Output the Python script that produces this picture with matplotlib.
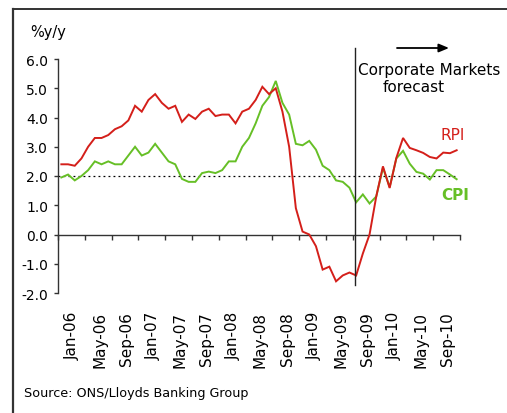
import matplotlib
matplotlib.use("Agg")
import matplotlib.pyplot as plt
from matplotlib.lines import Line2D

# ---- data (monthly, Jan-06 .. Dec-10) ----
rpi = [2.4, 2.4, 2.35, 2.6, 3.0, 3.3, 3.3, 3.4, 3.6, 3.7, 3.9, 4.4,
       4.2, 4.6, 4.8, 4.5, 4.3, 4.4, 3.85, 4.1, 3.95, 4.2, 4.3, 4.05,
       4.1, 4.1, 3.8, 4.2, 4.3, 4.6, 5.05, 4.8, 5.0, 4.2, 3.0, 0.9,
       0.1, 0.0, -0.4, -1.2, -1.1, -1.6, -1.4, -1.3, -1.4, -0.65, 0.0, 1.3,
       2.33, 1.59, 2.62, 3.3, 2.96, 2.88, 2.79, 2.65, 2.6, 2.8, 2.78, 2.88]
cpi = [1.95, 2.05, 1.85, 2.0, 2.2, 2.5, 2.4, 2.5, 2.4, 2.4, 2.7, 3.0,
       2.7, 2.8, 3.1, 2.8, 2.5, 2.4, 1.9, 1.8, 1.8, 2.1, 2.15, 2.1,
       2.2, 2.5, 2.5, 3.0, 3.3, 3.8, 4.4, 4.7, 5.25, 4.5, 4.1, 3.1,
       3.05, 3.2, 2.9, 2.35, 2.2, 1.85, 1.8, 1.6, 1.1, 1.37, 1.06, 1.3,
       2.28, 1.62, 2.6, 2.86, 2.42, 2.14, 2.08, 1.88, 2.2, 2.2, 2.05, 1.89]
tick_labels = ["Jan-06", "May-06", "Sep-06", "Jan-07", "May-07", "Sep-07",
               "Jan-08", "May-08", "Sep-08", "Jan-09", "May-09", "Sep-09",
               "Jan-10", "May-10", "Sep-10"]
yticks = [-2.0, -1.0, 0.0, 1.0, 2.0, 3.0, 4.0, 5.0, 6.0]
forecast_start = 44.4   # position of the forecast divider (Sep-09)
target_level = 2.0

RED = "#d41f1a"
GREEN = "#66bf26"

W, H = 507, 414
fig = plt.figure(figsize=(W / 100, H / 100), dpi=100)
fig.patch.set_facecolor("white")

L, R, T, B = 58, 460, 60, 294
ax = fig.add_axes([L / W, 1 - B / H, (R - L) / W, (B - T) / H])
ax.set_facecolor("none")

x = [i + 0.5 for i in range(len(rpi))]
ax.plot(x, cpi, color=GREEN, lw=1.4, solid_joinstyle="miter", zorder=3)
ax.plot(x, rpi, color=RED, lw=1.4, solid_joinstyle="miter", zorder=4)

ax.set_xlim(0, 60)
ax.set_ylim(-2, 6)

# target dotted line
ax.plot([0, x[-1]], [target_level, target_level], color="black",
        lw=0.9, ls=(0, (1.5, 2.5)), zorder=2)

# spines
for s in ["top", "right"]:
    ax.spines[s].set_visible(False)
ax.spines["left"].set_color("#333333")
ax.spines["left"].set_linewidth(1.0)
ax.spines["bottom"].set_position(("data", 0))
ax.spines["bottom"].set_color("#333333")
ax.spines["bottom"].set_linewidth(1.0)

ax.set_yticks(yticks)
ax.set_yticklabels([f"{v:.1f}" for v in yticks])
ax.tick_params(axis="y", direction="out", length=3, width=1, pad=4,
               labelsize=10, colors="#333333", labelcolor="black")

ax.set_xticks(list(range(0, 61, 4)))
ax.tick_params(axis="x", direction="out", length=3.5, width=1,
               labelbottom=False, colors="#333333")

sec = ax.secondary_xaxis(0.0)
sec.set_xticks([4 * k + 2.2 for k in range(len(tick_labels))])
sec.set_xticklabels(tick_labels, rotation=90, va="top", ha="center")
sec.tick_params(axis="x", length=0, pad=13, labelsize=11)
sec.spines["bottom"].set_visible(False)

# forecast divider
ax.plot([forecast_start, forecast_start], [-1.74, 6.38], color="#222222",
        lw=1.0, clip_on=False, zorder=5)

# texts
fig.text(30 / W, 1 - 33 / H, "%y/y", ha="left", va="center", fontsize=10.5)
fig.text(429 / W, 1 - 71 / H, "Corporate Markets", ha="center", va="center",
         fontsize=11)
fig.text(414 / W, 1 - 88 / H, "forecast", ha="center", va="center",
         fontsize=11)
ax.annotate("", xy=(449 / W, 1 - 49 / H), xytext=(397 / W, 1 - 49 / H),
            xycoords="figure fraction", textcoords="figure fraction",
            arrowprops=dict(arrowstyle="-|>,head_length=0.6,head_width=0.25",
                            color="black", lw=1.3, shrinkA=0, shrinkB=0))
fig.text(453 / W, 1 - 135 / H, "RPI", ha="center", va="center",
         fontsize=11, color=RED)
fig.text(455 / W, 1 - 196 / H, "CPI", ha="center", va="center",
         fontsize=11, color=GREEN, fontweight="bold")
fig.text(24 / W, 1 - 394 / H, "Source: ONS/Lloyds Banking Group",
         ha="left", va="center", fontsize=9.2)

# frame (left and top edges)
fig.add_artist(Line2D([13 / W, 13 / W], [0, 1 - 10 / H], transform=fig.transFigure,
                      color="#333333", lw=1.6))
fig.add_artist(Line2D([13 / W, 1], [1 - 10 / H, 1 - 10 / H], transform=fig.transFigure,
                      color="#333333", lw=1.4))

fig.savefig("out.png", dpi=100, facecolor="white")
